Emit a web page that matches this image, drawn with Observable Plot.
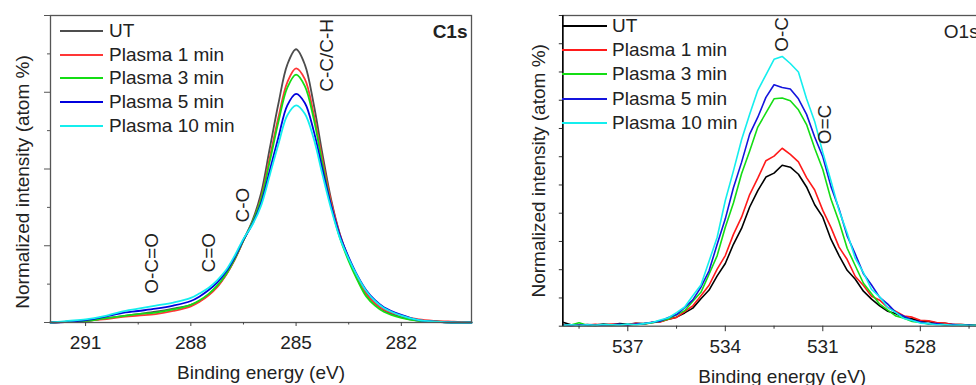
<!DOCTYPE html>
<html><head><meta charset="utf-8">
<script src="https://cdn.jsdelivr.net/npm/d3@7"></script>
<script src="https://cdn.jsdelivr.net/npm/@observablehq/plot@0.6"></script>
<style>
body{margin:0;background:#fff;overflow:hidden}
#wrap{position:relative;width:976px;height:385px;overflow:hidden;background:#fff;font-family:"Liberation Sans",Arial,sans-serif;}
.panel{position:absolute;top:0}
.legend{position:absolute;top:0;font-size:19px;color:#222}
.legend .row{position:absolute;display:flex;align-items:center;white-space:nowrap;height:24px}
.legend .sw{display:inline-block;height:2px;}
</style></head><body><div id="wrap"></div>
<script>
const names = ["UT","Plasma 1 min","Plasma 3 min","Plasma 5 min","Plasma 10 min"];
const c1sColors = ["#4d4d4d","#ff3636","#14dd14","#0000dd","#14eeee"];
const o1sColors = ["#000000","#ff1a1a","#14dd14","#1414dd","#14eeee"];

// C1s spectra (binding energy eV, normalized intensity)
const c1sEnergy = [292,291.5,291,290.5,290,289.5,289,288.5,288,287.75,287.5,287.25,287,286.75,286.5,286.25,286,285.75,285.5,285.25,285,284.75,284.5,284.25,284,283.75,283.5,283.25,283,282.75,282.5,282,281.5,281,280.5,280];
const c1sUT    = [0,0.01,0.02,0.05,0.08,0.11,0.14,0.18,0.23,0.28,0.36,0.47,0.62,0.82,1.07,1.32,1.68,2.27,2.86,3.36,3.56,3.36,2.85,2.2,1.6,1.15,0.83,0.58,0.38,0.25,0.16,0.07,0.02,0.01,0,0];
const c1sP1    = [0,0.01,0.02,0.04,0.07,0.09,0.11,0.15,0.21,0.27,0.35,0.46,0.62,0.82,1.07,1.30,1.62,2.15,2.68,3.13,3.31,3.17,2.72,2.12,1.57,1.14,0.83,0.57,0.37,0.25,0.17,0.09,0.04,0.02,0.01,0];
const c1sP3    = [0,0.01,0.02,0.05,0.08,0.11,0.13,0.17,0.23,0.29,0.37,0.48,0.63,0.83,1.07,1.30,1.60,2.10,2.62,3.06,3.23,3.08,2.66,2.07,1.52,1.10,0.80,0.55,0.34,0.22,0.14,0.06,0.02,0.01,0,0];
const c1sP5    = [0,0.01,0.03,0.07,0.12,0.15,0.18,0.22,0.28,0.34,0.42,0.52,0.66,0.85,1.08,1.28,1.55,1.98,2.42,2.83,2.98,2.86,2.50,2.00,1.52,1.13,0.85,0.61,0.42,0.29,0.20,0.10,0.03,0.01,0,0];
const c1sP10   = [0,0.02,0.04,0.08,0.14,0.18,0.22,0.26,0.32,0.38,0.45,0.55,0.68,0.87,1.09,1.27,1.52,1.92,2.33,2.70,2.83,2.72,2.40,1.93,1.48,1.10,0.83,0.60,0.41,0.28,0.19,0.09,0.03,0.01,0,0];

// O1s spectra
const o1sEnergy = [539,538.75,538.5,538.25,538,537.75,537.5,537.25,537,536.75,536.5,536.25,536,535.75,535.5,535.25,535,534.75,534.5,534.25,534,533.75,533.5,533.25,533,532.75,532.5,532.25,532,531.75,531.5,531.25,531,530.75,530.5,530.25,530,529.75,529.5,529.25,529,528.75,528.5,528.25,528,527.75,527.5,527.25,527,526.75,526.5,526.25,526];
const o1sUT  = [0.14,0.05,0.03,0.06,0.04,0.08,0.05,0.09,0.07,0.10,0.09,0.13,0.17,0.25,0.32,0.47,0.64,0.97,1.28,1.78,2.22,2.90,3.46,4.22,4.80,5.28,5.42,5.70,5.63,5.38,4.93,4.30,3.86,3.08,2.50,1.98,1.66,1.24,0.96,0.72,0.53,0.44,0.31,0.26,0.18,0.17,0.11,0.10,0.06,0.06,0.04,0.04,0.03];
const o1sP1  = [0.03,0.02,0.05,0.04,0.07,0.04,0.08,0.06,0.05,0.10,0.07,0.13,0.15,0.25,0.31,0.52,0.72,1.08,1.45,2.02,2.50,3.25,3.86,4.66,5.24,5.86,6.02,6.30,6.08,5.82,5.26,4.82,4.10,3.50,2.80,2.36,1.76,1.44,1.06,0.92,0.66,0.52,0.36,0.32,0.21,0.19,0.13,0.11,0.06,0.06,0.04,0.04,0.02];
const o1sP3  = [0.02,0.04,0.12,0.03,0.03,0.05,0.03,0.06,0.05,0.06,0.08,0.12,0.18,0.26,0.40,0.55,0.88,1.20,1.84,2.50,3.50,4.36,5.40,6.20,7.05,7.55,8.05,8.08,7.98,7.66,7.14,6.30,5.55,4.50,3.70,2.76,2.14,1.52,1.15,0.78,0.57,0.36,0.28,0.17,0.13,0.08,0.08,0.05,0.05,0.04,0.05,0.03,0.02];
const o1sP5  = [0.04,0.02,0.04,0.05,0.03,0.04,0.05,0.07,0.04,0.08,0.09,0.14,0.18,0.31,0.41,0.66,0.93,1.38,1.96,2.90,3.80,4.90,5.80,6.80,7.40,8.10,8.55,8.45,8.40,8.05,7.50,6.70,6.00,4.95,4.15,3.20,2.55,1.86,1.46,1.02,0.78,0.48,0.35,0.20,0.16,0.09,0.09,0.05,0.06,0.03,0.04,0.02,0.02];
const o1sP10 = [0.03,0.05,0.02,0.05,0.03,0.06,0.05,0.04,0.08,0.05,0.09,0.13,0.22,0.30,0.48,0.68,1.08,1.46,2.30,3.15,4.45,5.50,6.60,7.50,8.35,8.90,9.45,9.55,9.30,9.00,8.05,7.25,6.15,5.15,4.10,3.30,2.40,1.90,1.30,1.04,0.66,0.48,0.27,0.20,0.11,0.09,0.05,0.06,0.03,0.04,0.02,0.03,0.02];

// axes
const c1sXDomain = [292, 280], c1sYDomain = [0, 4];
const c1sXMajor = [291, 288, 285, 282], c1sXMinor = [289.5, 286.5, 283.5];
const c1sYMajor = [0, 1, 2, 3, 4], c1sYMinor = [0.5, 1.5, 2.5, 3.5];
const o1sXDomain = [539, 525.5], o1sYDomain = [0, 11];
const o1sXMajor = [537, 534, 531, 528], o1sXMinor = [538.5, 535.5, 532.5, 529.5, 526.5];
const o1sYTicks = [0,1,2,3,4,5,6,7,8,9,10,11];

// peak annotations
const c1sPeaks = [{label:"O-C=O", e:289.1, v:0.77},{label:"C=O", e:287.48, v:0.91},{label:"C-O", e:286.51, v:1.53},{label:"C-C/C-H", e:284.13, v:3.48}];
const o1sPeaks = [{label:"O-C", e:532.26, v:10.33},{label:"O=C", e:530.93, v:7.14}];

const xLabel = "Binding energy (eV)";
const yLabel = "Normalized intensity (atom %)";

function tidy(energy, arrs){ return arrs.flatMap((vals,i)=>vals.map((v,j)=>({series:names[i], e:energy[j], v}))); }
const c1sData = tidy(c1sEnergy, [c1sUT,c1sP1,c1sP3,c1sP5,c1sP10]);
const o1sData = tidy(o1sEnergy, [o1sUT,o1sP1,o1sP3,o1sP5,o1sP10]);

const font = "'Liberation Sans', Arial, sans-serif";
const txt = "#222";

const c1s = Plot.plot({
  width: 480, height: 385, marginLeft: 50, marginRight: 9, marginTop: 15, marginBottom: 63,
  x: {domain: c1sXDomain}, y: {domain: c1sYDomain},
  color: {domain: names, range: c1sColors},
  style: {fontFamily: font, fontSize: "19px", color: txt, background: "transparent", overflow: "visible"},
  marks: [
    Plot.line(c1sData, {x:"e", y:"v", z:"series", stroke:"series", strokeWidth:1.8, curve:"catmull-rom"}),
    Plot.frame({stroke:"#555", strokeWidth:1.3}),
    Plot.axisX(c1sXMajor, {tickSize:4, tickPadding:9, stroke:"#444", fill:txt, label:null}),
    Plot.axisX(c1sXMinor, {tickSize:2.5, tickFormat:()=>"", stroke:"#444", label:null}),
    Plot.axisY(c1sYMajor, {tickSize:6, tickFormat:()=>"", stroke:"#555", label:null}),
    Plot.axisY(c1sYMinor, {tickSize:3, tickFormat:()=>"", stroke:"#555", label:null}),
    Plot.text(c1sPeaks, {x:"e", y:"v", text:"label", rotate:-90, fill:txt, lineAnchor:"middle"}),
    Plot.text(["C1s"], {text:d=>d, frameAnchor:"top-right", dx:-4, dy:16, textAnchor:"end", lineAnchor:"middle", fontWeight:"bold", fill:txt}),
    Plot.text([xLabel], {text:d=>d, frameAnchor:"bottom", dy:50, lineAnchor:"middle", fill:txt}),
    Plot.text([yLabel], {text:d=>d, frameAnchor:"left", dx:-28, dy:13, rotate:-90, textAnchor:"middle", lineAnchor:"middle", fill:txt})
  ]
});

const o1s = Plot.plot({
  width: 530, height: 385, marginLeft: 72.3, marginRight: 18.95, marginTop: 15, marginBottom: 59.3,
  x: {domain: o1sXDomain}, y: {domain: o1sYDomain},
  color: {domain: names, range: o1sColors},
  style: {fontFamily: font, fontSize: "19px", color: txt, background: "transparent", overflow: "visible"},
  marks: [
    Plot.line(o1sData, {x:"e", y:"v", z:"series", stroke:"series", strokeWidth:1.6}),
    Plot.frame({stroke:"#555", strokeWidth:1.3}),
    Plot.ruleX([o1sXDomain[0]], {stroke:"#000", strokeWidth:1.5}),
    Plot.axisX(o1sXMajor, {tickSize:5.5, tickPadding:8, stroke:"#333", fill:txt, label:null}),
    Plot.axisX(o1sXMinor, {tickSize:3, tickFormat:()=>"", stroke:"#333", label:null}),
    Plot.axisY(o1sYTicks, {tickSize:3.5, tickFormat:()=>"", stroke:"#333", label:null}),
    Plot.text(o1sPeaks, {x:"e", y:"v", text:"label", rotate:-90, fill:txt, lineAnchor:"middle"}),
    Plot.text(["O1s"], {text:d=>d, frameAnchor:"top-left", dx:381, dy:16, textAnchor:"start", lineAnchor:"middle", fill:txt}),
    Plot.text([xLabel], {text:d=>d, frameAnchor:"bottom", dy:51, lineAnchor:"middle", fill:txt}),
    Plot.text([yLabel], {text:d=>d, frameAnchor:"left", dx:-24, dy:0, rotate:-90, textAnchor:"middle", lineAnchor:"middle", fill:txt})
  ]
});

const wrap = document.getElementById("wrap");
function place(node, left){ node.classList.add("panel"); node.style.left = left + "px"; wrap.appendChild(node); }
place(c1s, 0);
place(o1s, 490);

function legend(colors, lineLeft, lineW, textLeft, y0, step){
  const lg = document.createElement("div"); lg.className = "legend"; lg.style.left = "0px";
  names.forEach((n,i)=>{
    const row = document.createElement("div"); row.className = "row";
    row.style.left = lineLeft + "px"; row.style.top = (y0 + i*step - 12) + "px";
    const sw = document.createElement("span"); sw.className = "sw";
    sw.style.width = lineW + "px"; sw.style.background = colors[i];
    sw.style.marginRight = (textLeft - lineLeft - lineW) + "px";
    const t = document.createElement("span"); t.textContent = n;
    row.appendChild(sw); row.appendChild(t); lg.appendChild(row);
  });
  wrap.appendChild(lg);
}
legend(c1sColors, 60, 43, 109, 31, 23.7);
legend(o1sColors, 562, 45, 612, 26, 24.2);
</script></body></html>
